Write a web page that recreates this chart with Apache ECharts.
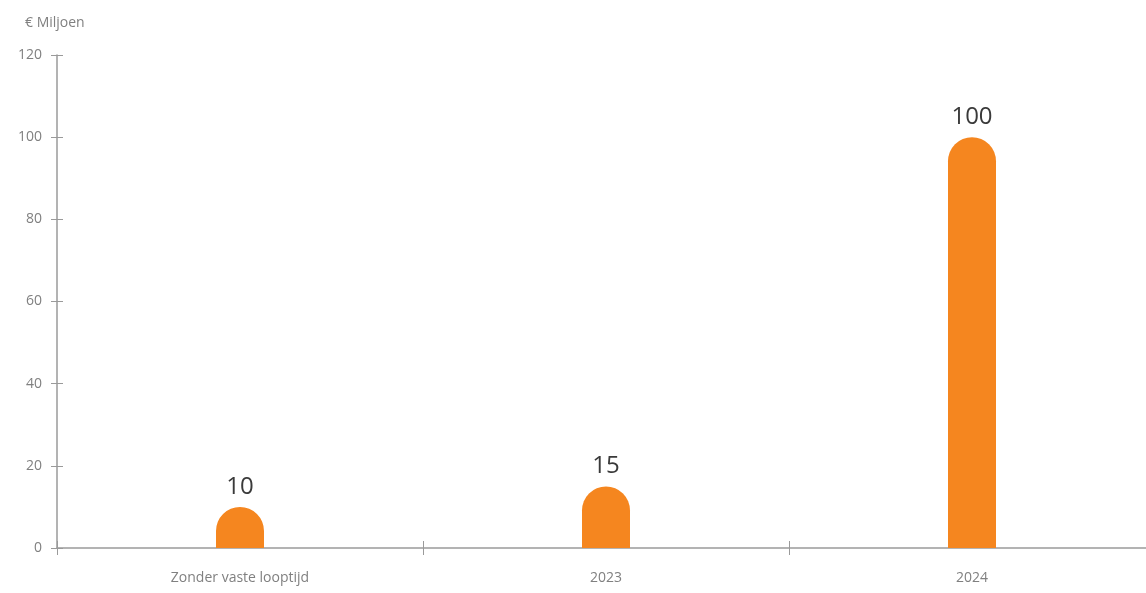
<!DOCTYPE html>
<html>
<head>
<meta charset="utf-8">
<script src="https://cdn.jsdelivr.net/npm/echarts@6/dist/echarts.min.js"></script>
<style>html,body{margin:0;padding:0;background:#fff;overflow:hidden;width:1146px;height:593px;}#c{width:1155px;height:593px;}</style>
</head>
<body>
<div id="c"></div>
<script>
const categories = ['Zonder vaste looptijd', '2023', '2024'];
const values = [10, 15, 100];
const yTicks = [0, 20, 40, 60, 80, 100, 120];
const unitLabel = '€ Miljoen';

const chart = echarts.init(document.getElementById('c'), null, {renderer: 'canvas'});
const font = '"Open Sans", "Noto Sans", sans-serif';
const axisColor = '#9a9a9a';
const labelColor = '#808080';

chart.setOption({
  animation: false,
  textStyle: {fontFamily: font},
  title: {
    text: unitLabel,
    left: 20, top: 11,
    textStyle: {fontSize: 14, fontWeight: 'normal', color: labelColor, fontFamily: font}
  },
  grid: {left: 57, right: 0, top: 55, bottom: 45, containLabel: false},
  xAxis: [{
    type: 'category',
    data: categories,
    axisLine: {lineStyle: {color: axisColor, width: 1.5}},
    axisTick: {show: true, length: 7, lineStyle: {color: axisColor}},
    axisLabel: {color: labelColor, fontSize: 14, margin: 23, fontFamily: font}
  }, {
    type: 'category',
    data: categories,
    position: 'bottom',
    axisLine: {show: false},
    axisTick: {show: true, inside: true, length: 7, lineStyle: {color: axisColor}},
    axisLabel: {show: false}
  }],
  yAxis: [{
    type: 'value',
    min: 0, max: yTicks[yTicks.length - 1], interval: yTicks[1] - yTicks[0],
    splitLine: {show: false},
    axisLine: {show: true, lineStyle: {color: axisColor, width: 1.5}},
    axisTick: {show: true, length: 6, lineStyle: {color: axisColor}},
    axisLabel: {color: labelColor, fontSize: 14, margin: 15, fontFamily: font}
  }, {
    type: 'value',
    min: 0, max: yTicks[yTicks.length - 1], interval: yTicks[1] - yTicks[0],
    position: 'left',
    splitLine: {show: false},
    axisLine: {show: false},
    axisTick: {show: true, inside: true, length: 6, lineStyle: {color: axisColor}},
    axisLabel: {show: false}
  }],
  series: [{
    type: 'bar',
    data: values,
    barWidth: 48,
    itemStyle: {color: '#F5861F', borderRadius: [24, 24, 0, 0]},
    label: {
      show: true, position: 'top', distance: 8,
      fontSize: 24, color: '#3a3a3a', fontFamily: font
    }
  }]
});
</script>
</body>
</html>
